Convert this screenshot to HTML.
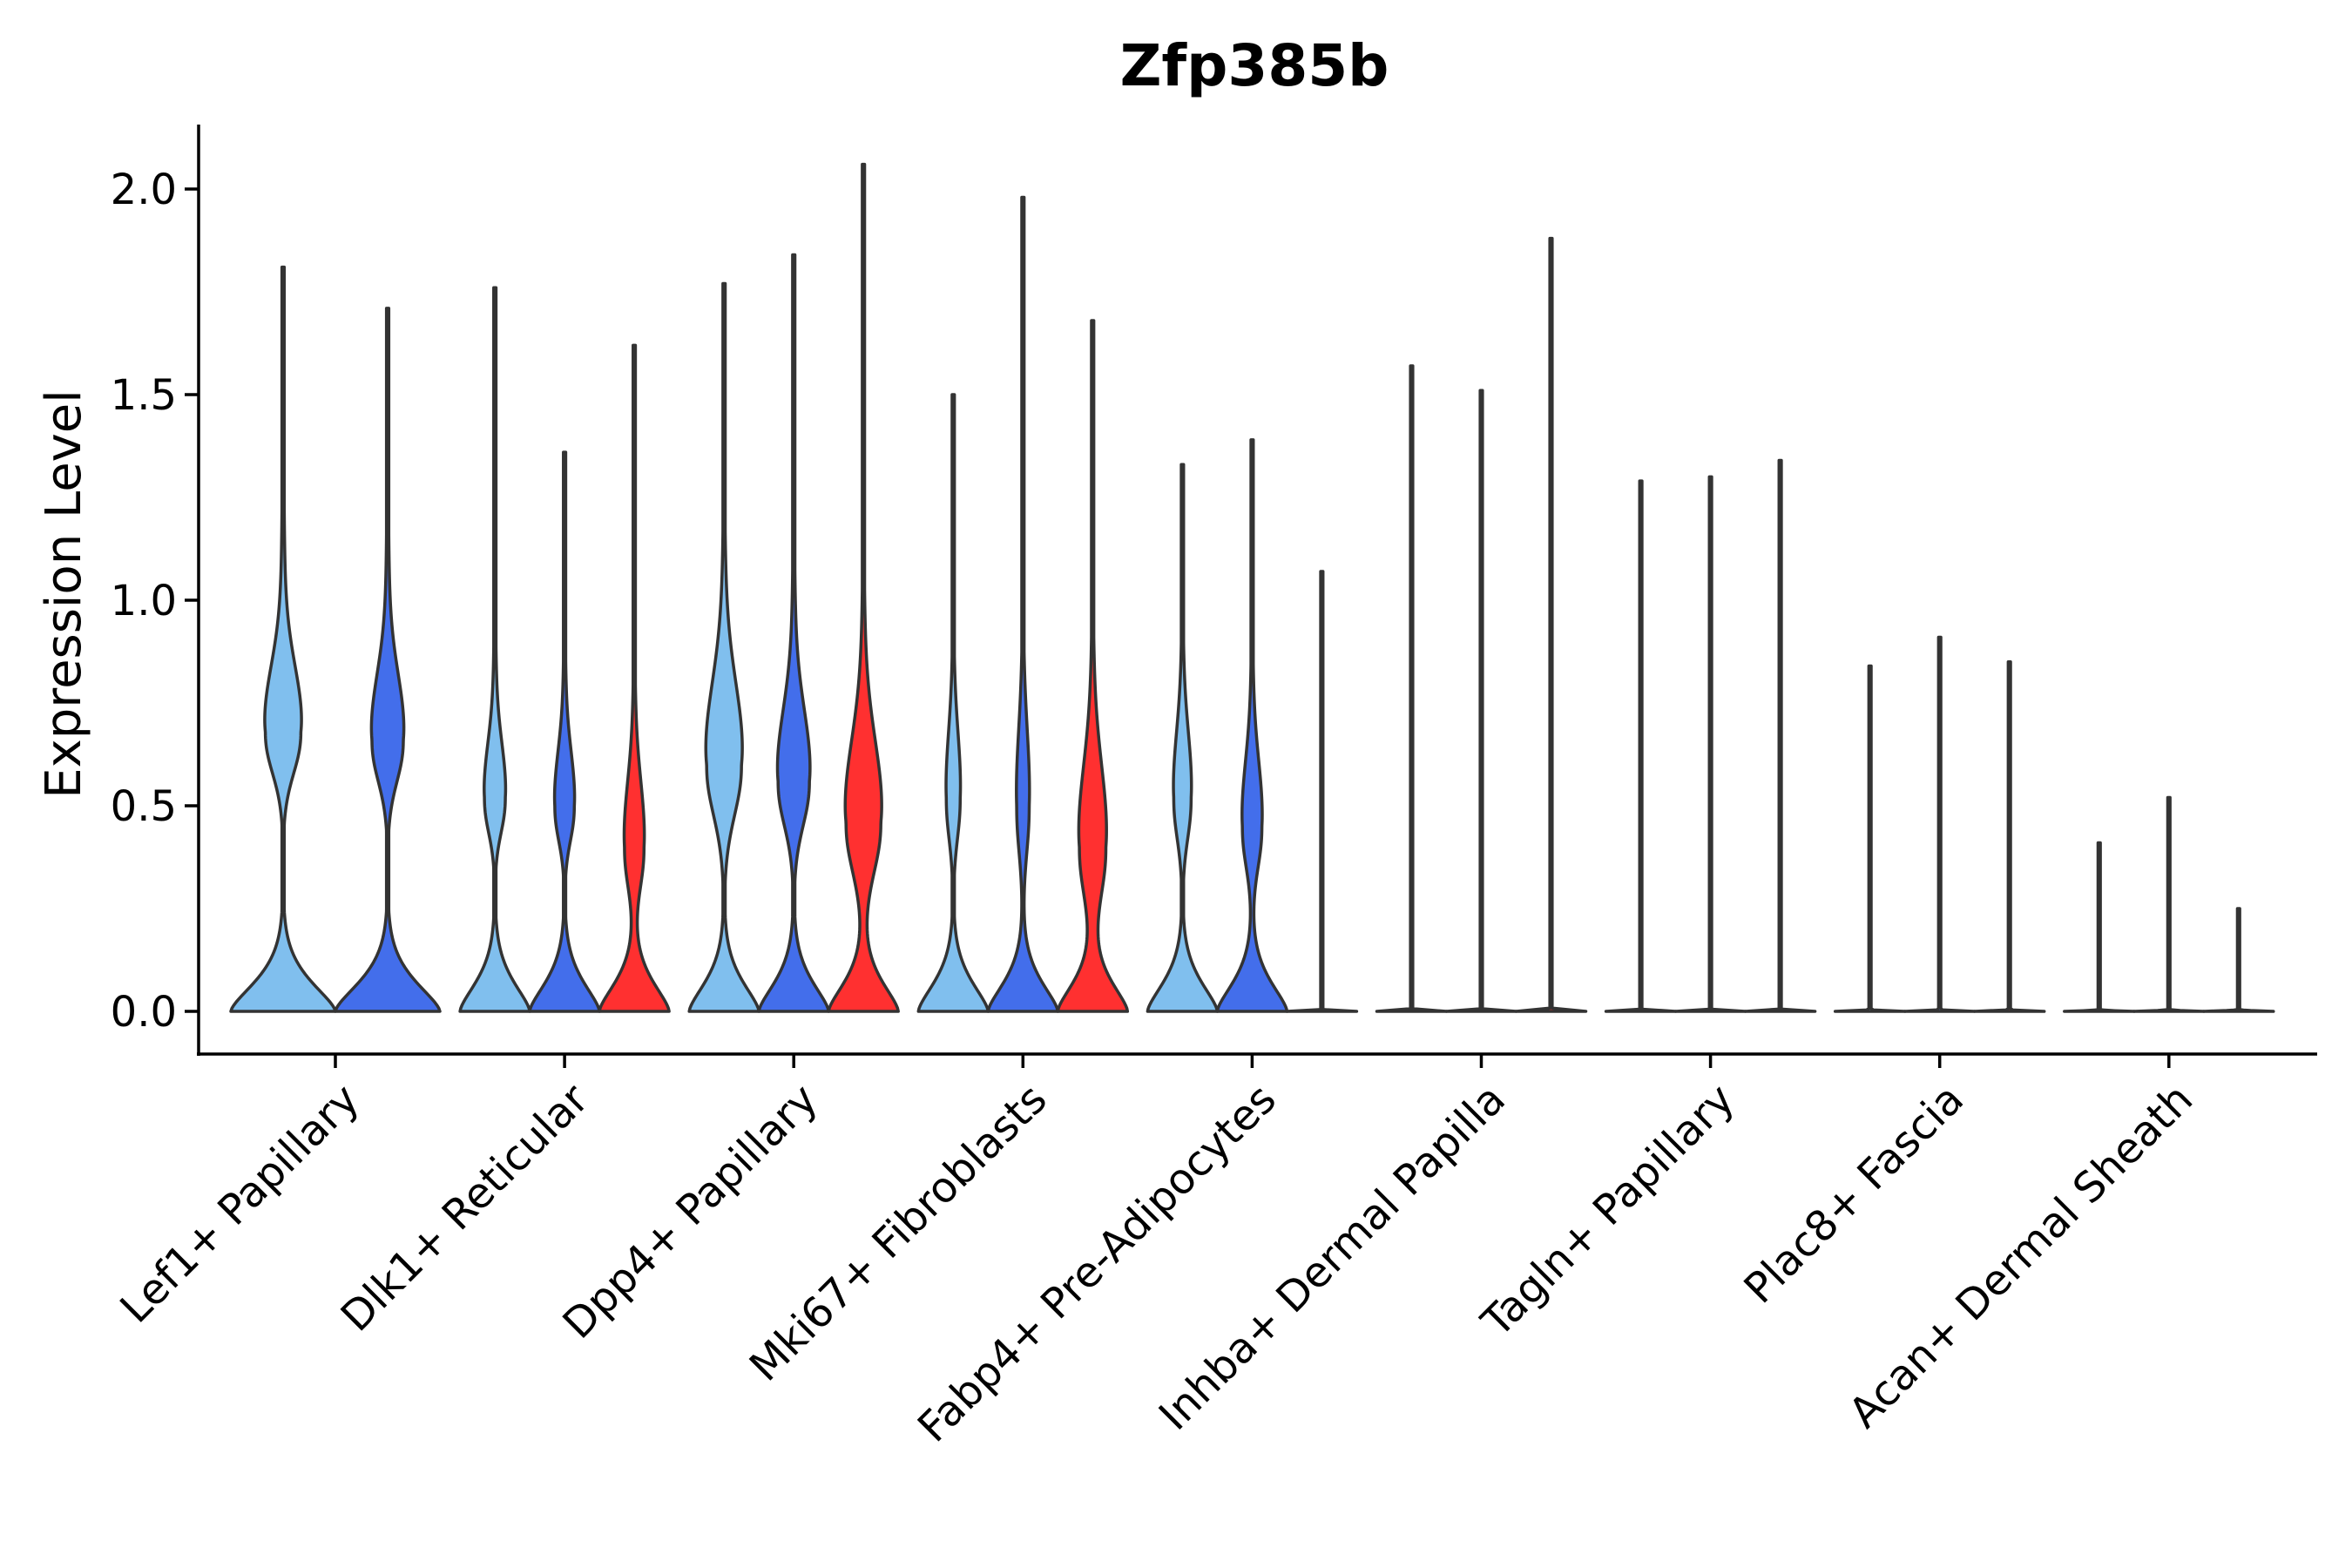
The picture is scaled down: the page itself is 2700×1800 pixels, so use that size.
<!DOCTYPE html>
<html><head><meta charset="utf-8"><style>
html,body{margin:0;padding:0;background:#fff}
svg{display:block}
text{font-family:"DejaVu Sans","Liberation Sans",sans-serif}
</style></head><body>
<svg id="chart" width="2700" height="1800" viewBox="0 0 2700 1800" xmlns="http://www.w3.org/2000/svg">
<text x="1440" y="98" font-size="66" font-weight="bold" text-anchor="middle">Zfp385b</text>
<text x="0" y="0" font-size="56" text-anchor="middle" transform="translate(92,682) rotate(-90)">Expression Level</text>
<g id="plot"></g>
</svg>
<script>
const categories = ["Lef1+ Papillary","Dlk1+ Reticular","Dpp4+ Papillary","Mki67+ Fibroblasts","Fabp4+ Pre-Adipocytes","Inhba+ Dermal Papilla","Tagln+ Papillary","Plac8+ Fascia","Acan+ Dermal Sheath"];
const yTicks = [0,0.5,1.0,1.5,2.0];
const yTickLabels = ["0.0","0.5","1.0","1.5","2.0"];
// per-violin data, per category: [light, blue, red]
const seriesMax = [[1.81,1.71],[1.76,1.36,1.62],[1.77,1.84,2.06],[1.50,1.98,1.68],[1.33,1.39,1.07],[1.57,1.51,1.88],[1.29,1.30,1.34],[0.84,0.91,0.85],[0.41,0.52,0.25]];
const seriesMode = [[0.68,0.66],[0.52,0.50,0.40],[0.60,0.56,0.46],[0.52,0.50,0.40],[0.52,0.45,0],[0,0,0],[0,0,0],[0,0,0],[0,0,0]];
const seriesModeWidth = [[0.34,0.3],[0.3,0.28,0.28],[0.5,0.45,0.5],[0.2,0.18,0.38],[0.25,0.28,0],[0,0,0],[0,0,0],[0,0,0],[0,0,0]];
const seriesModeSpread = [[0.12,0.12],[0.1,0.1,0.12],[0.15,0.13,0.15],[0.12,0.14,0.15],[0.12,0.12,0.1],[0.1,0.1,0.1],[0.1,0.1,0.1],[0.1,0.1,0.1],[0.1,0.1,0.1]];
const seriesBaseScale = [[0.1,0.1],[0.1,0.1,0.1],[0.1,0.1,0.1],[0.1,0.1,0.1],[0.1,0.1,0.002],[0.002,0.002,0.002],[0.002,0.002,0.002],[0.002,0.002,0.002],[0.002,0.002,0.002]];
const colors = ["#80BFEE","#436EEB","#FF3030"];

const NS="http://www.w3.org/2000/svg";
const g=document.getElementById('plot');
const X0=385, DX=263.1, GROUPW=240;
const yScale=v=>1161-v*472;
const xCat=i=>X0+i*DX;
function mk(t,a){const e=document.createElementNS(NS,t);for(const k in a)e.setAttribute(k,a[k]);g.appendChild(e);return e;}

categories.forEach((c,i)=>{
  const n=seriesMax[i].length, slot=GROUPW/n, hw=slot/2;
  for(let j=0;j<n;j++){
    const cx=xCat(i)-GROUPW/2+slot*(j+0.5);
    const mx=seriesMax[i][j], mode=seriesMode[i][j], mw=seriesModeWidth[i][j], sd=seriesModeSpread[i][j], bs=seriesBaseScale[i][j];
    const pts=[];const N=240;
    for(let k=0;k<=N;k++){
      const y=mx*k/N;
      let w=Math.exp(-Math.pow(y/bs,1.5));
      if(mw>0){
        const f=1/(1+Math.exp(-(y-mode)/0.04));
        const s = sd*(0.8*(1-f)+1.2*f);
        w+=mw*Math.exp(-Math.pow(y-mode,2)/(2*s*s));
        const dy=Math.max(0,y-mode);
        w+=mw*0.3*(1-Math.exp(-dy/0.12))*Math.exp(-dy/0.35);
      }
      w=Math.min(1,Math.max(w,0.022*(60/hw)));
      pts.push([y,w*hw]);
    }
    let d=`M${cx-pts[0][1]},${yScale(0)}`;
    pts.forEach(p=>d+=` L${cx-p[1]},${yScale(p[0])}`);
    for(let k=pts.length-1;k>=0;k--)d+=` L${cx+pts[k][1]},${yScale(pts[k][0])}`;
    d+=' Z';
    const p=mk('path',{d:d,fill:colors[j],stroke:'#333',"stroke-width":3.5,"stroke-linejoin":"round"});
    
    
  }
  const t=mk('line',{x1:xCat(i),x2:xCat(i),y1:1210,y2:1226,stroke:'#000',"stroke-width":3.5});
  
  
  const lx=xCat(i)+5, ly=1240;
  const lb=mk('text',{x:lx,y:ly,"font-size":48,"text-anchor":"end",transform:`rotate(-45 ${lx} ${ly})`,"dominant-baseline":"hanging"});
  lb.textContent=c;
  
  
});
yTicks.forEach((v,i)=>{
  const t=mk('line',{x1:212,x2:228,y1:yScale(v),y2:yScale(v),stroke:'#000',"stroke-width":3.5});
  
  
  const l=mk('text',{x:203,y:yScale(v)+17,"font-size":48,"text-anchor":"end"});
  l.textContent=yTickLabels[i];
  
  
});
const ya=mk('line',{x1:228,x2:228,y1:143,y2:1212,stroke:'#000',"stroke-width":3.5});


const xa=mk('line',{x1:226,x2:2660,y1:1210,y2:1210,stroke:'#000',"stroke-width":3.5});


</script>
</body></html>
